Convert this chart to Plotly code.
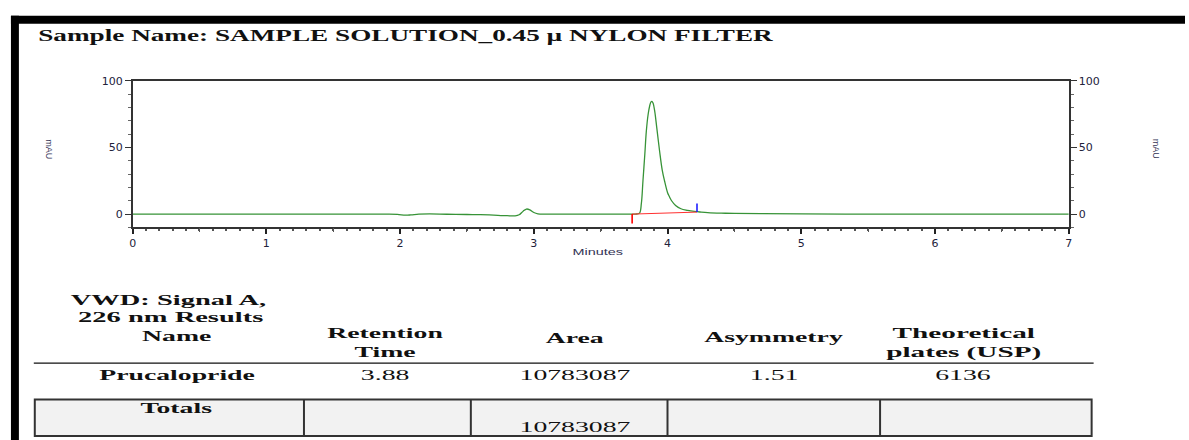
import plotly.graph_objects as go

W, H = 1189, 440

# ---- chromatogram data ----
time_min = [0.0, 0.5, 1.0, 1.5, 1.9, 1.98, 2.04, 2.08, 2.14, 2.22, 2.35, 2.5, 2.6, 2.7, 2.8, 2.86,
            2.89, 2.92, 2.945, 2.97, 3.0, 3.03, 3.1, 3.3, 3.5, 3.7, 3.76, 3.79, 3.804, 3.816,
            3.83, 3.841, 3.855, 3.866, 3.875, 3.883, 3.892, 3.904, 3.92, 3.94, 3.96, 3.977,
            4.0, 4.014, 4.03, 4.06, 4.1, 4.15, 4.2, 4.25, 4.3, 4.4, 4.5, 4.7, 5.0, 5.5, 6.0, 7.0]
mau = [0.0, 0.0, 0.0, 0.0, 0.0, -0.2, -0.8, -0.6, 0.0, 0.2, -0.1, -0.3, -0.4, -0.8, -1.2, -1.3,
       -0.5, 2.2, 3.8, 3.2, 1.2, 0.2, 0.0, 0.0, 0.0, 0.0, 0.0, 0.7, 8.0, 25.0,
       45.0, 62.0, 75.0, 81.0, 84.0, 84.5, 83.0, 77.0, 64.0, 47.5, 33.0, 25.0,
       16.0, 13.0, 10.0, 6.5, 4.0, 2.8, 2.0, 1.5, 1.1, 0.7, 0.5, 0.3, 0.1, 0.0, 0.0, 0.0]

# integration baseline and peak start/end markers
baseline_t = [3.735, 4.22]
baseline_y = [0.0, 1.5]
start_mark_t = [3.735, 3.735]
start_mark_y = [0.0, -7.0]
end_mark_t = [4.22, 4.22]
end_mark_y = [1.5, 8.0]

x_ticks = [0, 1, 2, 3, 4, 5, 6, 7]
half_ticks = [0.5, 1.5, 2.5, 3.5, 4.5, 5.5, 6.5]
y_ticks = [0, 50, 100]

# ---- results table ----
title_text = "Sample Name: SAMPLE SOLUTION_0.45 \u00b5 NYLON FILTER"
signal_lines = ["VWD: Signal A,", "226 nm Results"]
col_headers = ["Name", "Retention<br>Time", "Area", "Asymmetry", "Theoretical<br>plates (USP)"]
row_values = ["Prucalopride", "3.88", "10783087", "1.51", "6136"]
totals_values = ["Totals", "", "10783087", "", ""]


def px(x):
    return x / W


def py(y):
    return 1 - y / H


fig = go.Figure()
fig.add_trace(go.Scatter(x=time_min, y=mau, mode="lines", line=dict(color="#379337", width=1.3),
                         line_shape="spline", hoverinfo="skip"))
fig.add_trace(go.Scatter(x=baseline_t, y=baseline_y, mode="lines", line=dict(color="#ff3030", width=1)))
fig.add_trace(go.Scatter(x=start_mark_t, y=start_mark_y, mode="lines", line=dict(color="#ff0000", width=1.6)))
fig.add_trace(go.Scatter(x=end_mark_t, y=end_mark_y, mode="lines", line=dict(color="#2020ff", width=1.6)))
fig.add_trace(go.Scatter(x=[0], y=[0], yaxis="y2", mode="markers", marker=dict(opacity=0), hoverinfo="skip"))
fig.add_trace(go.Scatter(x=[0], y=[0], xaxis="x2", mode="markers", marker=dict(opacity=0), hoverinfo="skip"))

xd = [px(129.5), px(1072)]
yd = [py(224.5), py(75.7)]
tickfont = dict(family="DejaVu Sans", size=11, color="#22223a")

fig.update_layout(
    width=W, height=H, margin=dict(l=0, r=0, t=0, b=0),
    paper_bgcolor="white", plot_bgcolor="white", showlegend=False,
    xaxis=dict(domain=xd, range=[0, 7], tickvals=x_ticks, ticks="outside", ticklen=5, tickwidth=1.5,
               tickcolor="#222", showline=True, linecolor="#333", linewidth=1.5, mirror=True,
               showgrid=False, zeroline=False, tickfont=tickfont,
               minor=dict(dtick=0.1, ticklen=2, tickcolor="#555", ticks="outside")),
    xaxis2=dict(domain=xd, range=[0, 7], overlaying="x", anchor="y", side="bottom",
                tickvals=half_ticks, ticks="outside", ticklen=3.5, tickcolor="#555",
                showticklabels=False, showgrid=False, zeroline=False, showline=False),
    yaxis=dict(domain=yd, range=[-10, 100], tickvals=y_ticks, ticks="outside", ticklen=6, tickwidth=1.2,
               tickcolor="#333", showline=True, linecolor="#333", linewidth=1.5, showgrid=False,
               zeroline=False, tickfont=tickfont,
               minor=dict(dtick=10, ticklen=3, tickcolor="#666", ticks="outside")),
    yaxis2=dict(domain=yd, range=[-10, 100], overlaying="y", side="right", anchor="x",
                tickvals=y_ticks, ticks="outside", ticklen=6, tickwidth=1.2, tickcolor="#333",
                showline=True, linecolor="#333", linewidth=1.5, showgrid=False, zeroline=False,
                tickfont=tickfont, minor=dict(dtick=10, ticklen=3, tickcolor="#666", ticks="outside")),
)

shapes = []
# black frame
shapes.append(dict(type="rect", xref="paper", yref="paper", x0=px(7), x1=1, y0=py(18), y1=py(10),
                   fillcolor="black", line=dict(width=0), layer="above"))
shapes.append(dict(type="rect", xref="paper", yref="paper", x0=px(7), x1=px(15), y0=0, y1=py(10),
                   fillcolor="black", line=dict(width=0), layer="above"))
# header underline
shapes.append(dict(type="line", xref="paper", yref="paper", x0=px(30), x1=px(1097), y0=py(362), y1=py(362),
                   line=dict(color="#111", width=1.3)))
# totals box
shapes.append(dict(type="rect", xref="paper", yref="paper", x0=px(31), x1=px(1095), y0=py(436), y1=py(399),
                   fillcolor="#f2f2f2", line=dict(color="#333", width=2), layer="below"))
for bx in [302, 470, 668, 882]:
    shapes.append(dict(type="line", xref="paper", yref="paper", x0=px(bx), x1=px(bx), y0=py(436), y1=py(399),
                       line=dict(color="#333", width=2)))
fig.update_layout(shapes=shapes)

SERIF = "Liberation Serif, Times New Roman, serif"
ann = []
scales = []


def add(text, x, y, size, scale):
    ann.append(dict(text=text, x=px(x), y=py(y), xanchor="center", yanchor="middle", align="center",
                    font=dict(family=SERIF, size=size, color="#111")))
    scales.append(scale)


add("<b>" + title_text + "</b>", 405, 30, 17, 1.6)
ann.append(dict(text="Minutes", x=px(598), y=py(249), xanchor="center", yanchor="middle",
                font=dict(family="Liberation Sans, Arial", size=9, color="#333355")))
scales.append(1.6)
ann.append(dict(text="mAU", x=px(45), y=py(145), textangle=90, xanchor="center", yanchor="middle",
                font=dict(family="Liberation Sans, Arial", size=9, color="#333355")))
scales.append(1.0)
ann.append(dict(text="mAU", x=px(1160), y=py(145), textangle=90, xanchor="center", yanchor="middle",
                font=dict(family="Liberation Sans, Arial", size=9, color="#333355")))
scales.append(1.0)
add("<b>" + signal_lines[0] + "</b>", 166, 298, 15, 1.9)
add("<b>" + signal_lines[1] + "</b>", 168, 315, 15, 1.9)

centers = [174, 384, 575, 775, 966]
header_y = [335, 342, 337, 336, 342]
for i, (cx, hy, h) in enumerate(zip(centers, header_y, col_headers)):
    add("<b>" + h + "</b>", cx, hy, 15, 1.95 if i == 4 else 1.85)
for i, (cx, v) in enumerate(zip(centers, row_values)):
    t = "<b>" + v + "</b>" if i == 0 else v
    add(t, cx, 374, 15, 1.85)
for i, (cx, v) in enumerate(zip(centers, totals_values)):
    if not v:
        continue
    if i == 0:
        add("<b>" + v + "</b>", cx, 408, 15, 1.85)
    else:
        add(v, cx, 427, 15, 1.85)
for a in ann:
    a.update(xref="paper", yref="paper", showarrow=False)
fig.update_layout(annotations=ann)

post = """
document.body.style.margin='0';document.body.style.padding='0';
document.documentElement.style.overflow='hidden';
var sc=%s;
var gd=document.getElementById('{plot_id}');
gd.querySelectorAll('text.annotation-text').forEach(function(t,i){
  t.style.transformBox='fill-box';t.style.transformOrigin='center';
  t.style.transform='scaleX('+sc[i]+')';
});
""" % str(scales)

fig.write_html("out.html", post_script=post, config={"displayModeBar": False})
